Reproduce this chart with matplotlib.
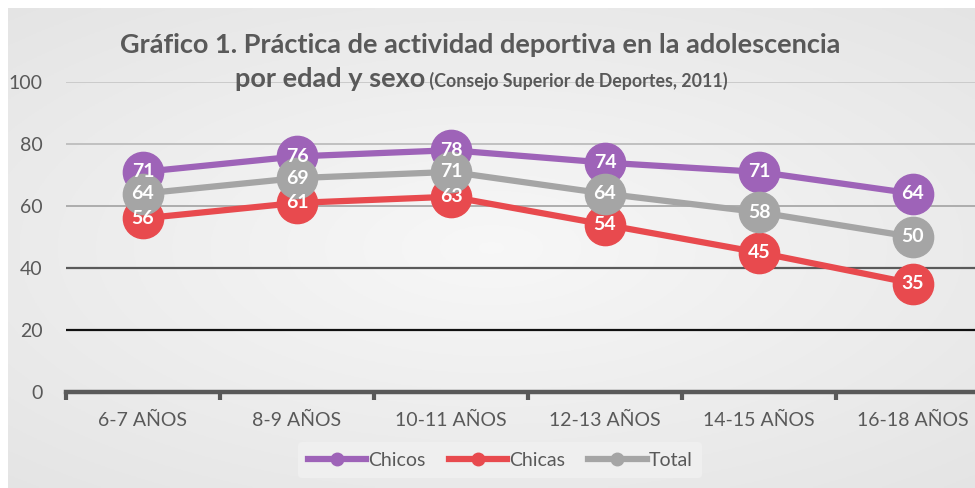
import numpy as np
import matplotlib
matplotlib.use("Agg")
import matplotlib.pyplot as plt
from matplotlib.lines import Line2D

plt.rcParams['font.family'] = ['Lato', 'DejaVu Sans']

categories = ["6-7 AÑOS", "8-9 AÑOS", "10-11 AÑOS", "12-13 AÑOS", "14-15 AÑOS", "16-18 AÑOS"]
chicos = [71, 76, 78, 74, 71, 64]
chicas = [56, 61, 63, 54, 45, 35]
total = [64, 69, 71, 64, 58, 50]
series_names = ["Chicos", "Chicas", "Total"]
colors = ["#9E63B8", "#E84A4E", "#A5A5A5"]
yticks = [0, 20, 40, 60, 80, 100]

W, H = 975, 488
fig = plt.figure(figsize=(W / 100, H / 100), dpi=100)
fig.patch.set_facecolor("white")

# background with soft radial gradient
bg = fig.add_axes([8 / W, 0, 1 - 8 / W, 480 / H])
yy, xx = np.mgrid[-1:1:200j, -1:1:400j]
r = np.sqrt((xx * 0.9) ** 2 + (yy * 1.0) ** 2)
g = 0.97 - 0.055 * np.clip(r, 0, 1.4)
bg.imshow(np.dstack([g, g, g]), aspect="auto", extent=[0, 1, 0, 1])
bg.set_axis_off()

ax = fig.add_axes([66 / W, 96 / H, 924 / W, 310 / H])
ax.set_facecolor("none")
x = np.arange(len(categories))
ax.set_xlim(-0.5, 5.5)
ax.set_ylim(0, 100)

# gridlines
grid_colors = {100: "#c8c8c8", 80: "#bdbdbd", 60: "#a8a8a8", 40: "#5a5a5a", 20: "#111111"}
for v, c in grid_colors.items():
    ax.axhline(v, color=c, lw=1.3 if v >= 60 else 1.6, zorder=1)

for s in ["top", "right", "left"]:
    ax.spines[s].set_visible(False)
ax.spines["bottom"].set_color("#595959")
ax.spines["bottom"].set_linewidth(3.2)

ax.set_yticks(yticks)
ax.set_yticklabels([str(v) for v in yticks], fontsize=14, color="#595959")
ax.tick_params(axis="y", length=0, pad=17)
ax.set_xticks(x)
ax.set_xticklabels(categories, fontsize=14, color="#595959")
ax.tick_params(axis="x", which="major", length=0, pad=14)
ax.set_xticks(np.arange(-0.5, 5.6, 1), minor=True)
ax.tick_params(axis="x", which="minor", length=6, width=3, color="#595959", direction="out")

for i, (name, vals, col) in enumerate(zip(series_names, [chicos, chicas, total], colors)):
    ax.plot(x, vals, color=col, lw=4.5, marker="o", markersize=29, markerfacecolor=col,
            markeredgecolor=col, zorder=3 + i, solid_capstyle="round", clip_on=False)
    for xi, v in zip(x, vals):
        ax.text(xi, v, str(v), ha="center", va="center", color="white", fontsize=14,
                fontweight="bold", zorder=10 + i)

# title
fig.text(480 / W, 1 - 45 / H, "Gráfico 1. Práctica de actividad deportiva en la adolescencia",
         ha="center", va="center", fontsize=19.5, fontweight="bold", color="#595959")
t1 = fig.text(0, 1 - 80 / H, "por edad y sexo", ha="left", va="baseline", fontsize=19.5,
              fontweight="bold", color="#595959")
t2 = fig.text(0, 1 - 80 / H, " (Consejo Superior de Deportes, 2011)", ha="left", va="baseline",
              fontsize=12.8, fontweight="bold", color="#595959")
fig.canvas.draw()
rend = fig.canvas.get_renderer()
w1 = t1.get_window_extent(rend).width
w2 = t2.get_window_extent(rend).width
start = 481 - (w1 + w2) / 2
base = 1 - 87 / H
t1.set_position((start / W, base))
t2.set_position(((start + w1) / W, base))

handles = [Line2D([0], [0], color=c, lw=4.5, marker="o", markersize=9) for c in colors]
leg = fig.legend(handles, series_names, loc="center", bbox_to_anchor=(500 / W, 1 - 460 / H),
                 ncol=3, frameon=True, fontsize=14, handlelength=3.0, handletextpad=0.1,
                 columnspacing=1.2, borderpad=0.5)
leg.get_frame().set_facecolor("#efefef")
leg.get_frame().set_edgecolor("none")
leg.get_frame().set_alpha(1)
for t in leg.get_texts():
    t.set_color("#595959")

fig.savefig("out.png", dpi=100)
